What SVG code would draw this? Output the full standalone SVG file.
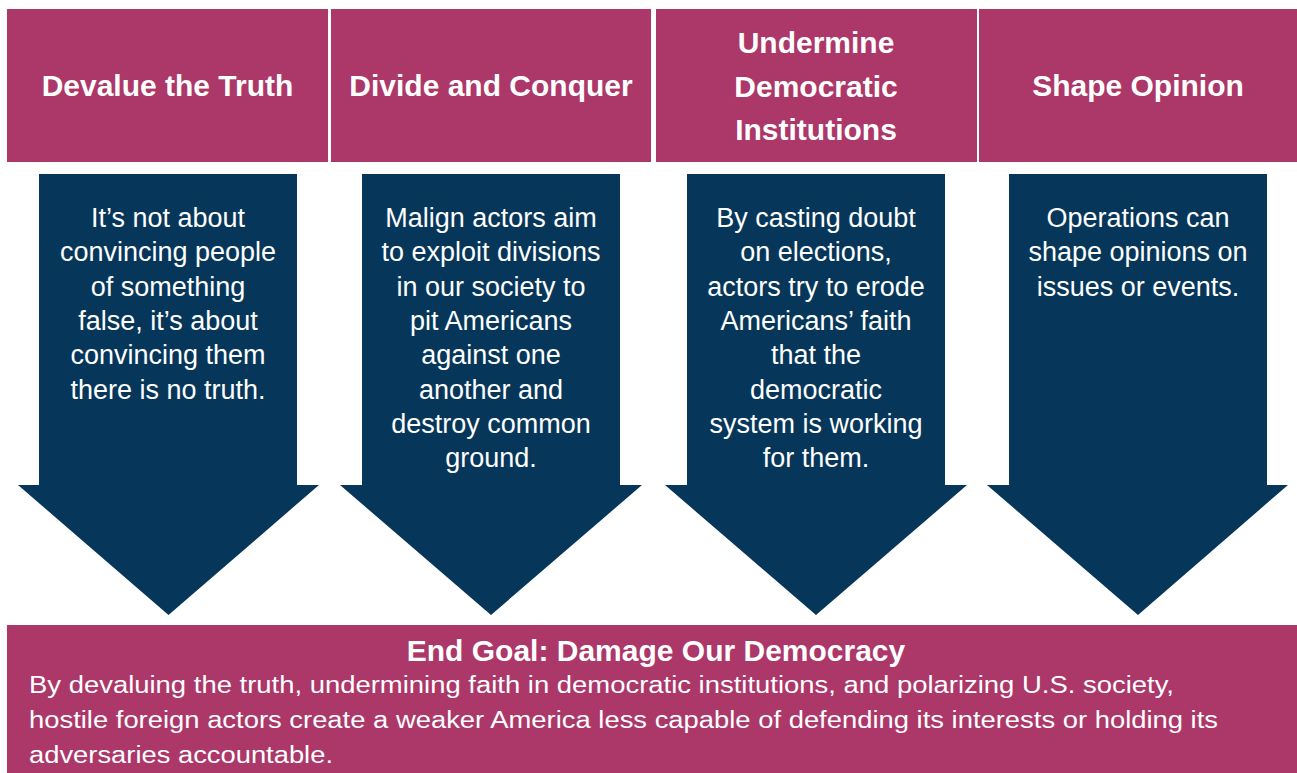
<svg xmlns="http://www.w3.org/2000/svg" width="1297" height="773" viewBox="0 0 1297 773">
<style>
.hdr{fill:#AC3769}
.arr{fill:#06375A}
.ht{font-family:"Liberation Sans",Arial,sans-serif;font-weight:bold;font-size:30px;fill:#fff;text-anchor:middle}
.bt{font-family:"Liberation Sans",Arial,sans-serif;font-size:27px;fill:#fff;text-anchor:middle}
.gt{font-family:"Liberation Sans",Arial,sans-serif;font-weight:bold;font-size:30px;fill:#fff;text-anchor:middle}
.gb{font-family:"Liberation Sans",Arial,sans-serif;font-size:23.5px;fill:#fff}
</style>
<rect width="1297" height="773" fill="#fff"/>
<g id="header1"><rect class="hdr" x="7" y="9" width="321" height="153"/><text class="ht" x="167.5" y="96">Devalue the Truth</text></g>
<g id="header2"><rect class="hdr" x="331" y="9" width="320" height="153"/><text class="ht" x="491" y="96">Divide and Conquer</text></g>
<g id="header3"><rect class="hdr" x="656" y="9" width="321" height="153"/><text class="ht" x="816" y="53">Undermine</text><text class="ht" x="816" y="96.5">Democratic</text><text class="ht" x="816" y="140">Institutions</text></g>
<g id="header4"><rect class="hdr" x="979" y="9" width="318" height="153"/><text class="ht" x="1138" y="96">Shape Opinion</text></g>
<g id="connectors">
<g id="arrow1"><polygon class="arr" points="39,174 297,174 297,485 319,485 168.5,615 18,485 39,485"/>
<text class="bt" x="168" y="227">It’s not about</text><text class="bt" x="168" y="261.3">convincing people</text><text class="bt" x="168" y="295.6">of something</text><text class="bt" x="168" y="329.9">false, it’s about</text><text class="bt" x="168" y="364.2">convincing them</text><text class="bt" x="168" y="398.5">there is no truth.</text></g>
<g id="arrow2"><polygon class="arr" points="362,174 620,174 620,485 642,485 491,615 340,485 362,485"/>
<text class="bt" x="491" y="227">Malign actors aim</text><text class="bt" x="491" y="261.3">to exploit divisions</text><text class="bt" x="491" y="295.6">in our society to</text><text class="bt" x="491" y="329.9">pit Americans</text><text class="bt" x="491" y="364.2">against one</text><text class="bt" x="491" y="398.5">another and</text><text class="bt" x="491" y="432.8">destroy common</text><text class="bt" x="491" y="467.1">ground.</text></g>
<g id="arrow3"><polygon class="arr" points="687,174 945,174 945,485 967,485 816,615 665,485 687,485"/>
<text class="bt" x="816" y="227">By casting doubt</text><text class="bt" x="816" y="261.3">on elections,</text><text class="bt" x="816" y="295.6">actors try to erode</text><text class="bt" x="816" y="329.9">Americans’ faith</text><text class="bt" x="816" y="364.2">that the</text><text class="bt" x="816" y="398.5">democratic</text><text class="bt" x="816" y="432.8">system is working</text><text class="bt" x="816" y="467.1">for them.</text></g>
<g id="arrow4"><polygon class="arr" points="1009,174 1267,174 1267,485 1288,485 1138,615 987,485 1009,485"/>
<text class="bt" x="1138" y="227">Operations can</text><text class="bt" x="1138" y="261.3">shape opinions on</text><text class="bt" x="1138" y="295.6">issues or events.</text></g>
</g>
<g id="endgoal"><rect class="hdr" x="7" y="625" width="1290" height="148"/>
<text class="gt" x="656" y="661">End Goal: Damage Our Democracy</text>
<text class="gb" x="29" y="693" textLength="1145" lengthAdjust="spacingAndGlyphs">By devaluing the truth, undermining faith in democratic institutions, and polarizing U.S. society,</text>
<text class="gb" x="29" y="728" textLength="1189" lengthAdjust="spacingAndGlyphs">hostile foreign actors create a weaker America less capable of defending its interests or holding its</text>
<text class="gb" x="29" y="763" textLength="304" lengthAdjust="spacingAndGlyphs">adversaries accountable.</text></g>
</svg>
